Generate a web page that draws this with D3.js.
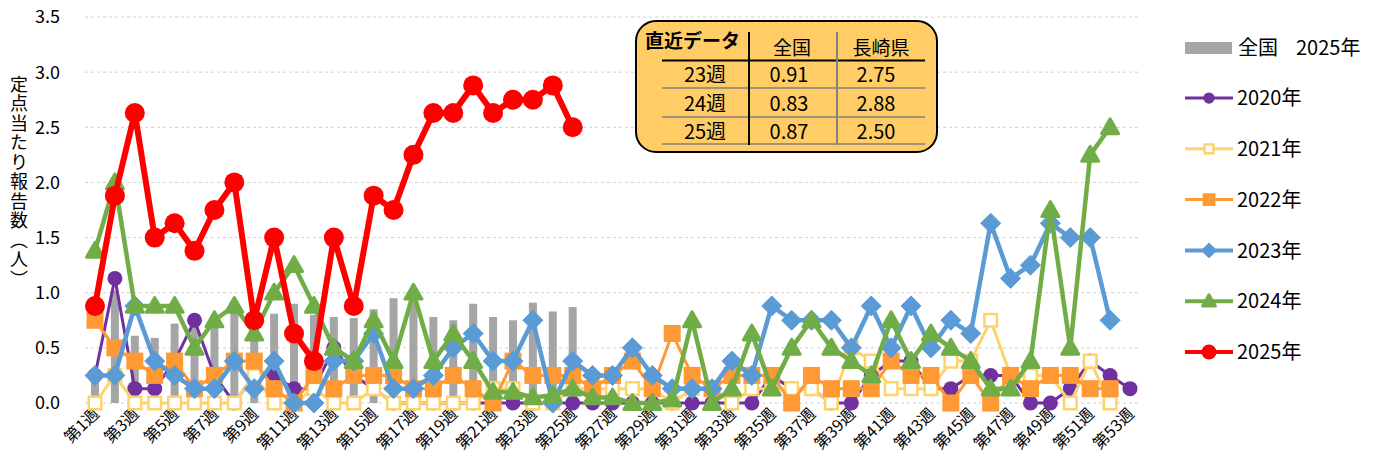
<!DOCTYPE html>
<html>
<head>
<meta charset="utf-8">
<script src="https://d3js.org/d3.v7.min.js"></script>
<style>
  body { margin: 0; background: #fff; }
  text { font-family: "Noto Sans CJK JP", "Noto Sans", sans-serif; fill: #000; }
</style>
</head>
<body>
<div id="graph"></div>
<script>

// ---- data ----
var weeks = d3.range(1, 54);
var weekLabels = weeks.map(function(w) { return "第" + w + "週"; });
var yTicks = [0, 0.5, 1.0, 1.5, 2.0, 2.5, 3.0, 3.5];

// 全国 2025年 (bars)
var national2025 = [0.3, 1.02, 0.61, 0.59, 0.72, 0.7, 0.73, 0.82, 0.8, 0.81,
  0.9, 0.8, 0.78, 0.77, 0.85, 0.95, 0.95, 0.78, 0.75, 0.9,
  0.78, 0.75, 0.91, 0.83, 0.87];

var v2020 = [0.25, 1.13, 0.13, 0.13, 0.38, 0.75, 0.25, 0, 0.25, 0.25,
  0.13, 0.13, 0.5, 0.25, 0.13, 0, 0, 0, 0, 0,
  0, 0, 0, 0, 0, 0, 0, 0, 0, 0,
  0, 0, 0, 0, 0.25, 0.13, 0.13, 0, 0, 0.25,
  0.38, 0.38, 0.13, 0.13, 0.25, 0.25, 0.25, 0, 0, 0.13,
  0.38, 0.25, 0.13];
var v2021 = [0, 0.25, 0, 0, 0, 0, 0, 0, 0.25, 0,
  0, 0.13, 0, 0, 0.13, 0, 0, 0, 0, 0,
  0.13, 0.13, 0, 0, 0.13, 0.13, 0.13, 0.13, 0.13, 0,
  0.13, 0.13, 0, 0.13, 0.13, 0.13, 0.13, 0, 0.5, 0.38,
  0.13, 0.13, 0.13, 0.38, 0.38, 0.75, 0.25, 0.25, 0.25, 0,
  0.38, 0];
var v2022 = [0.75, 0.5, 0.38, 0.25, 0.38, 0.13, 0.25, 0.38, 0.38, 0.13,
  0, 0.25, 0.13, 0.25, 0.25, 0.25, 0.13, 0.13, 0.25, 0.13,
  0, 0.38, 0.25, 0.25, 0.25, 0.13, 0.25, 0.38, 0.13, 0.63,
  0.25, 0.13, 0.25, 0.25, 0.25, 0, 0.25, 0.13, 0.13, 0.13,
  0.38, 0.25, 0.25, 0, 0.25, 0, 0.25, 0.13, 0.25, 0.25,
  0.13, 0.13];
var v2023 = [0.25, 0.25, 0.88, 0.38, 0.25, 0.13, 0.13, 0.38, 0.13, 0.38,
  0, 0, 0.38, 0.38, 0.63, 0.13, 0.13, 0.25, 0.5, 0.63,
  0.38, 0.38, 0.75, 0, 0.38, 0.25, 0.25, 0.5, 0.25, 0.13,
  0.13, 0.13, 0.38, 0.25, 0.88, 0.75, 0.75, 0.75, 0.5, 0.88,
  0.5, 0.88, 0.5, 0.75, 0.63, 1.63, 1.13, 1.25, 1.63, 1.5,
  1.5, 0.75];
var v2024 = [1.38, 2.0, 0.88, 0.88, 0.88, 0.5, 0.75, 0.88, 0.63, 1.0,
  1.25, 0.88, 0.5, 0.38, 0.75, 0.38, 1.0, 0.38, 0.63, 0.38,
  0.1, 0.1, 0.05, 0.07, 0.13, 0.05, 0.05, 0, 0, 0.03,
  0.75, 0, 0.13, 0.63, 0.13, 0.5, 0.75, 0.5, 0.38, 0.25,
  0.75, 0.38, 0.63, 0.5, 0.38, 0.13, 0.13, 0.38, 1.75, 0.5,
  2.25, 2.5];
var v2025 = [0.88, 1.88, 2.63, 1.5, 1.63, 1.38, 1.75, 2.0, 0.75, 1.5,
  0.63, 0.38, 1.5, 0.88, 1.88, 1.75, 2.25, 2.63, 2.63, 2.88,
  2.63, 2.75, 2.75, 2.88, 2.5];

// 直近データ table
var tableWeeks = ["23週", "24週", "25週"];
var tableNational = ["0.91", "0.83", "0.87"];
var tableNagasaki = ["2.75", "2.88", "2.50"];

// ---- chart ----
var w = 1387, h = 469;
var svg = d3.select("#graph").append("svg")
  .attr("width", w).attr("height", h);

var xScale = d3.scalePoint().domain(weeks).range([95, 1130]);
var yScale = d3.scaleLinear().domain([0, 3.5]).range([403, 17]);

// gridlines
svg.selectAll(".grid").data(yTicks).enter().append("line")
  .attr("x1", 85).attr("x2", 1140)
  .attr("y1", function(d) { return yScale(d); })
  .attr("y2", function(d) { return yScale(d); })
  .attr("stroke", "#d0d0d0").attr("stroke-width", 1)
  .attr("stroke-dasharray", "3,3");

// y labels
svg.selectAll(".ytick").data(yTicks).enter().append("text")
  .attr("x", 60).attr("y", function(d) { return yScale(d); })
  .attr("dy", "0.36em").attr("text-anchor", "end")
  .attr("font-size", "18px")
  .text(function(d) { return d3.format(".1f")(d); });

// y title (vertical writing)
svg.append("text")
  .attr("x", 19).attr("y", 75)
  .attr("font-size", "18px")
  .style("writing-mode", "vertical-rl")
  .style("text-orientation", "upright")
  .style("letter-spacing", "1.5px")
  .text("定点当たり報告数（人）");

// x labels (odd weeks)
svg.selectAll(".xlab").data(weeks.filter(function(d) { return d % 2 == 1; }))
  .enter().append("text")
  .attr("text-anchor", "end")
  .attr("font-size", "16px")
  .attr("transform", function(d) {
    return "translate(" + (xScale(d) + 5) + ",415) rotate(-45)";
  })
  .text(function(d) { return weekLabels[d - 1]; });

// bars
svg.selectAll(".bar").data(national2025).enter().append("rect")
  .attr("x", function(d, i) { return xScale(i + 1) - 4; })
  .attr("y", function(d) { return yScale(d); })
  .attr("width", 8)
  .attr("height", function(d) { return yScale(0) - yScale(d); })
  .attr("fill", "#a5a5a5");

// markers
function diamondPath(s) {
  return "M0," + (-s) + "L" + s + ",0L0," + s + "L" + (-s) + ",0Z";
}
function trianglePath(s) {
  return "M0," + (-s) + "L" + s + "," + (s * 0.75) + "L" + (-s) + "," + (s * 0.75) + "Z";
}
function squarePath(s) {
  return "M" + (-s) + "," + (-s) + "h" + (2 * s) + "v" + (2 * s) + "h" + (-2 * s) + "Z";
}

var series = [
  { label: "2020年", values: v2020, color: "#7030a0", width: 3, marker: "circle", size: 7.5 },
  { label: "2021年", values: v2021, color: "#ffd36b", width: 3, marker: "open", size: 7.5 },
  { label: "2022年", values: v2022, color: "#ff9933", width: 3, marker: "square", size: 8.5 },
  { label: "2023年", values: v2023, color: "#5b9bd5", width: 4.5, marker: "diamond", size: 10 },
  { label: "2024年", values: v2024, color: "#70ad47", width: 4.5, marker: "triangle", size: 8.5 },
  { label: "2025年", values: v2025, color: "#ff0000", width: 6, marker: "circle", size: 10 }
];

function drawMarker(g, s, scale) {
  var sz = s.size * (scale || 1);
  if (s.marker == "circle") {
    g.append("circle").attr("r", sz).attr("fill", s.color);
  } else if (s.marker == "open") {
    g.append("path").attr("d", squarePath(sz - 1.2)).attr("fill", "#fff")
      .attr("stroke", s.color).attr("stroke-width", 2.5);
  } else if (s.marker == "square") {
    g.append("path").attr("d", squarePath(sz)).attr("fill", s.color);
  } else if (s.marker == "diamond") {
    g.append("path").attr("d", diamondPath(sz)).attr("fill", s.color)
      .attr("stroke", s.color).attr("stroke-width", 1).attr("stroke-linejoin", "round");
  } else if (s.marker == "triangle") {
    g.append("path").attr("d", trianglePath(sz)).attr("fill", s.color)
      .attr("stroke", s.color).attr("stroke-width", 3).attr("stroke-linejoin", "round");
  }
}

var line = d3.line()
  .defined(function(d) { return d != null; })
  .x(function(d, i) { return xScale(i + 1); })
  .y(function(d) { return yScale(d); });

series.forEach(function(s) {
  svg.append("path")
    .attr("d", line(s.values))
    .attr("fill", "none")
    .attr("stroke", s.color)
    .attr("stroke-width", s.width)
    .attr("stroke-linejoin", "round");
  s.values.forEach(function(v, i) {
    var g = svg.append("g")
      .attr("transform", "translate(" + xScale(i + 1) + "," + yScale(v) + ")");
    drawMarker(g, s);
  });
});

// legend
var leg = svg.append("g");
leg.append("rect").attr("x", 1185).attr("y", 42).attr("width", 47).attr("height", 12)
  .attr("fill", "#a5a5a5");
leg.append("text").attr("x", 1238).attr("y", 48).attr("dy", "0.36em")
  .attr("font-size", "20px").text("全国");
leg.append("text").attr("x", 1296).attr("y", 48).attr("dy", "0.36em")
  .attr("font-size", "20px").text("2025年");

series.forEach(function(s, i) {
  var yy = 98 + i * 50.8;
  leg.append("line").attr("x1", 1185).attr("x2", 1233)
    .attr("y1", yy).attr("y2", yy)
    .attr("stroke", s.color).attr("stroke-width", Math.min(s.width, 4));
  var g = leg.append("g").attr("transform", "translate(1209," + yy + ")");
  drawMarker(g, s, 0.75);
  leg.append("text").attr("x", 1237).attr("y", yy).attr("dy", "0.36em")
    .attr("font-size", "20px").text(s.label);
});

// table
var tb = svg.append("g");
tb.append("rect").attr("x", 636).attr("y", 21).attr("width", 301).attr("height", 131)
  .attr("rx", 20).attr("ry", 20)
  .attr("fill", "#ffcc66").attr("stroke", "#000").attr("stroke-width", 2);
tb.append("text").attr("x", 645).attr("y", 48).attr("font-size", "19px")
  .attr("font-weight", "bold").text("直近データ");
tb.append("text").attr("x", 792).attr("y", 55).attr("text-anchor", "middle")
  .attr("font-size", "19px").text("全国");
tb.append("text").attr("x", 881).attr("y", 55).attr("text-anchor", "middle")
  .attr("font-size", "19px").text("長崎県");
tb.append("line").attr("x1", 662).attr("x2", 925).attr("y1", 60.5).attr("y2", 60.5)
  .attr("stroke", "#000").attr("stroke-width", 2);
[88, 117, 144].forEach(function(yy) {
  tb.append("line").attr("x1", 662).attr("x2", 925).attr("y1", yy).attr("y2", yy)
    .attr("stroke", "#808080").attr("stroke-width", 1.5);
});
tb.append("line").attr("x1", 749).attr("x2", 749).attr("y1", 32).attr("y2", 145)
  .attr("stroke", "#000").attr("stroke-width", 2);
tb.append("line").attr("x1", 837).attr("x2", 837).attr("y1", 32).attr("y2", 145)
  .attr("stroke", "#808080").attr("stroke-width", 2);
tableWeeks.forEach(function(t, i) {
  var yy = 82 + i * 28.5;
  tb.append("text").attr("x", 705).attr("y", yy).attr("text-anchor", "middle")
    .attr("font-size", "20px").text(t);
  tb.append("text").attr("x", 789).attr("y", yy).attr("text-anchor", "middle")
    .attr("font-size", "20px").text(tableNational[i]);
  tb.append("text").attr("x", 876).attr("y", yy).attr("text-anchor", "middle")
    .attr("font-size", "20px").text(tableNagasaki[i]);
});

</script>
</body>
</html>
